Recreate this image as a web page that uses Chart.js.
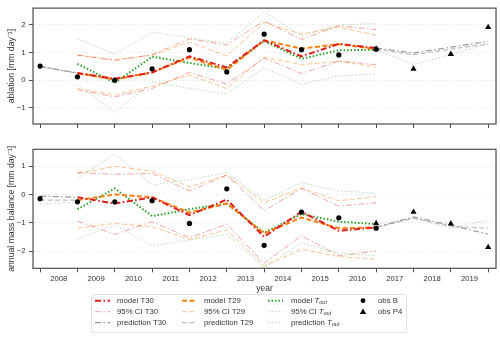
<!DOCTYPE html>
<html>
<head>
<meta charset="utf-8">
<script src="https://cdn.jsdelivr.net/npm/chart.js@4.4.0/dist/chart.umd.min.js"></script>
<style>
  html, body { margin: 0; padding: 0; background: #fff; }
  #wrap { position: relative; width: 500px; height: 337px; }
  #ablChart { position: absolute; left: 0; top: 0; }
  #mbChart { position: absolute; left: 0; top: 140px; }
</style>
</head>
<body>
<div id="wrap">
  <canvas id="ablChart" width="500" height="140"></canvas>
  <canvas id="mbChart" width="500" height="197"></canvas>
</div>
<script>
// year boundaries (points sit on them), labels sit in between
var yearStart = [2008, 2009, 2010, 2011, 2012, 2013, 2014, 2015, 2016, 2017, 2018, 2019, 2020];
var yearLabels = ['2008', '2009', '2010', '2011', '2012', '2013', '2014', '2015', '2016', '2017', '2018', '2019'];
var ablTicks = [-1, 0, 1, 2];
var mbTicks = [-2, -1, 0, 1];

// ablation panel
var ablObsB     = [0.51, 0.12, 0.00, 0.41, 1.10, 0.30, 1.66, 1.10, 0.91, 1.12, null, null, null];
var ablObsP4    = [null, null, null, null, null, null, null, null, null, 1.13, 0.41, 0.94, 1.91];
var ablModelT30 = [null, 0.26, 0.05, 0.28, 0.86, 0.46, 1.44, 0.86, 1.31, 1.16, null, null, null];
var ablModelT29 = [null, 0.25, 0.03, 0.28, 0.82, 0.37, 1.44, 1.14, 1.30, 1.12, null, null, null];
var ablModelTout= [null, 0.59, -0.09, 0.85, 0.62, 0.42, 1.42, 0.77, 1.08, 1.10, null, null, null];
var ablCiT30Up  = [null, 0.91, 0.71, 0.92, 1.49, 1.27, 2.14, 1.47, 1.97, 1.82, null, null, null];
var ablCiT30Lo  = [null, -0.35, -0.60, -0.30, 0.28, -0.14, 0.80, 0.24, 0.69, 0.56, null, null, null];
var ablCiT29Up  = [null, 0.90, 0.74, 0.90, 1.37, 0.88, 2.08, 1.66, 1.91, 1.62, null, null, null];
var ablCiT29Lo  = [null, -0.30, -0.53, -0.22, 0.19, -0.30, 0.83, 0.56, 0.68, 0.48, null, null, null];
var ablCiToutUp = [null, 1.49, 0.94, 1.73, 1.52, 1.33, 2.46, 1.62, 1.99, 2.05, null, null, null];
var ablCiToutLo = [null, -0.16, -1.15, -0.05, -0.30, -0.49, 0.45, -0.14, 0.16, 0.22, null, null, null];
var ablPredT30  = [0.50, 0.26, null, null, null, null, null, null, null, 1.16, 0.98, 1.19, 1.40];
var ablPredT29  = [0.49, 0.25, null, null, null, null, null, null, null, 1.12, 0.92, 1.12, 1.31];
var ablPredTout = [0.48, 0.27, null, null, null, null, null, null, null, 1.10, 0.56, 0.93, 1.31];

// annual mass balance panel
var mbObsB      = [-0.15, -0.26, -0.26, -0.22, -1.02, 0.20, -1.79, -0.62, -0.82, -1.19, null, null, null];
var mbObsP4     = [null, null, null, null, null, null, null, null, null, -1.02, -0.62, -1.03, -1.86];
var mbModelT30  = [null, -0.10, -0.32, -0.10, -0.73, -0.18, -1.49, -0.61, -1.28, -1.16, null, null, null];
var mbModelT29  = [null, -0.20, 0.00, -0.10, -0.64, -0.32, -1.37, -0.81, -1.19, -1.16, null, null, null];
var mbModelTout = [null, -0.52, 0.21, -0.76, -0.52, -0.32, -1.35, -0.69, -0.96, -1.04, null, null, null];
var mbCiT30Up   = [null, 0.77, 0.71, 0.74, 0.12, 0.68, -0.57, 0.21, -0.41, -0.29, null, null, null];
var mbCiT30Lo   = [null, -0.94, -1.40, -0.96, -1.52, -1.05, -2.42, -1.45, -2.16, -1.99, null, null, null];
var mbCiT29Up   = [null, 0.74, 0.99, 0.82, 0.27, 0.68, -0.29, 0.23, -0.22, -0.08, null, null, null];
var mbCiT29Lo   = [null, -1.19, -1.02, -1.14, -1.58, -1.25, -2.52, -1.93, -2.19, -2.28, null, null, null];
var mbCiToutUp  = [null, 0.56, 1.44, 0.33, 0.53, 0.76, -0.20, 0.41, 0.13, 0.04, null, null, null];
var mbCiToutLo  = [null, -1.57, -1.08, -1.81, -1.60, -1.40, -2.58, -1.70, -2.07, -2.16, null, null, null];
var mbPredT30   = [-0.06, -0.10, null, null, null, null, null, null, null, -1.16, -0.79, -1.08, -1.40];
var mbPredT29   = [-0.20, -0.20, null, null, null, null, null, null, null, -1.16, -0.84, -1.12, -1.19];
var mbPredTout  = [-0.34, -0.27, null, null, null, null, null, null, null, -1.04, -0.84, -1.19, -0.90];

var FONT = '"Liberation Sans", Arial, sans-serif';
var TXT = '#333';
var DASHDOT = [6, 2.5, 1.5, 2.5];
var DASH = [5, 2.5];
var DOT = [1.5, 2];

function toXY(values) {
  return yearStart.map(function (x, i) { return { x: x, y: values[i] }; });
}

function lineSet(label, values, color, width, dash) {
  return {
    label: label, data: toXY(values),
    borderColor: color, backgroundColor: color,
    borderWidth: width, borderDash: dash,
    pointRadius: 0, pointHoverRadius: 0, fill: false, tension: 0
  };
}

function pointSet(label, values, style, radius) {
  return {
    label: label, data: toXY(values), showLine: false,
    pointStyle: style, pointRadius: radius, pointHoverRadius: radius,
    backgroundColor: '#000', borderColor: '#000', borderWidth: 0
  };
}

function buildSets(d) {
  // first in list = drawn on top
  return [
    pointSet('obs B', d.obsB, 'circle', 2.6),
    pointSet('obs P4', d.obsP4, 'triangle', 3.6),
    lineSet('model T30', d.modelT30, 'rgb(226,30,28)', 2, DASHDOT),
    lineSet('model T29', d.modelT29, 'rgb(255,127,14)', 2, DASH),
    lineSet('model T_out', d.modelTout, 'rgb(44,160,44)', 2, DOT),
    lineSet('prediction T30', d.predT30, '#9a9a9a', 1.2, DASHDOT),
    lineSet('prediction T29', d.predT29, '#bdbdbd', 1.2, DASH),
    lineSet('prediction T_out', d.predTout, '#d4d4d4', 1.2, DOT),
    lineSet('95% CI T30', d.ciT30Up, 'rgba(226,30,28,0.4)', 1, DASHDOT),
    lineSet('95% CI T30', d.ciT30Lo, 'rgba(226,30,28,0.4)', 1, DASHDOT),
    lineSet('95% CI T29', d.ciT29Up, 'rgba(255,127,14,0.45)', 1, DASH),
    lineSet('95% CI T29', d.ciT29Lo, 'rgba(255,127,14,0.45)', 1, DASH),
    lineSet('95% CI T_out', d.ciToutUp, 'rgba(44,160,44,0.35)', 1, DOT),
    lineSet('95% CI T_out', d.ciToutLo, 'rgba(44,160,44,0.35)', 1, DOT)
  ];
}

var framePlugin = {
  id: 'frame',
  afterDatasetsDraw: function (chart) {
    var a = chart.chartArea, ctx = chart.ctx;
    ctx.save();
    ctx.strokeStyle = '#4d4d4d';
    ctx.lineWidth = 1.2;
    ctx.setLineDash([]);
    ctx.strokeRect(a.left, a.top, a.right - a.left, a.bottom - a.top);
    ctx.restore();
  }
};

// text with "T_out" drawn as italic T with italic subscript
function drawLabel(ctx, text, x, y) {
  var parts = text.split('T_out');
  ctx.font = '7.8px ' + FONT;
  ctx.fillText(parts[0], x, y);
  if (parts.length < 2) return;
  var w = ctx.measureText(parts[0]).width;
  ctx.font = 'italic 7.8px ' + FONT;
  ctx.fillText('T', x + w, y);
  var wt = ctx.measureText('T').width;
  ctx.font = 'italic 5.6px ' + FONT;
  ctx.fillText('out', x + w + wt, y + 2);
}

var legendCols = [
  ['model T30', '95% CI T30', 'prediction T30'],
  ['model T29', '95% CI T29', 'prediction T29'],
  ['model T_out', '95% CI T_out', 'prediction T_out'],
  ['obs B', 'obs P4']
];

var legendPlugin = {
  id: 'boxLegend',
  afterDraw: function (chart) {
    var ctx = chart.ctx;
    var box = { x: 91, y: 154, w: 315, h: 38 };
    var handleX = [95, 182, 268, 357];
    var textX = [117, 204, 291, 378];
    var rowY = [160.7, 171.7, 182.7];
    ctx.save();
    ctx.fillStyle = '#fff';
    ctx.strokeStyle = '#d9d9d9';
    ctx.lineWidth = 0.8;
    ctx.beginPath();
    ctx.roundRect(box.x + 0.5, box.y + 0.5, box.w, box.h, 2.5);
    ctx.fill();
    ctx.stroke();
    legendCols.forEach(function (col, c) {
      col.forEach(function (label, r) {
        var ds = chart.data.datasets.find(function (d) { return d.label === label; });
        var y = rowY[r];
        if (ds.showLine === false) {
          ctx.fillStyle = '#000';
          ctx.beginPath();
          var cx = handleX[c] + 6;
          if (ds.pointStyle === 'circle') {
            ctx.arc(cx, y, 2.4, 0, Math.PI * 2);
          } else {
            ctx.moveTo(cx, y - 3.2);
            ctx.lineTo(cx + 3.2, y + 2.4);
            ctx.lineTo(cx - 3.2, y + 2.4);
            ctx.closePath();
          }
          ctx.fill();
        } else {
          ctx.strokeStyle = ds.borderColor;
          ctx.lineWidth = ds.borderWidth;
          ctx.setLineDash(ds.borderDash);
          ctx.beginPath();
          ctx.moveTo(handleX[c], y);
          ctx.lineTo(handleX[c] + 15, y);
          ctx.stroke();
          ctx.setLineDash([]);
        }
        ctx.fillStyle = TXT;
        ctx.textBaseline = 'middle';
        ctx.textAlign = 'left';
        drawLabel(ctx, label, textX[c], y);
      });
    });
    ctx.restore();
  }
};

function makeChart(canvasId, sets, yMin, yMax, yTicks, yTitle, padTop, xHeight, withLabels) {
  var half = yearLabels.map(function (l) { return parseInt(l, 10) + 0.5; });
  return new Chart(document.getElementById(canvasId), {
    type: 'line',
    data: { datasets: sets },
    options: {
      responsive: false,
      animation: false,
      devicePixelRatio: 1,
      layout: { padding: { top: padTop, right: 4, bottom: 0, left: 0 } },
      plugins: { legend: { display: false }, tooltip: { enabled: false } },
      scales: {
        x: {
          type: 'linear', min: 2007.81, max: 2020.21,
          afterBuildTicks: function (scale) {
            scale.ticks = yearStart.concat(withLabels ? half : []).sort(function (a, b) { return a - b; })
              .map(function (v) { return { value: v }; });
          },
          afterFit: function (scale) { scale.height = xHeight; },
          grid: {
            drawOnChartArea: false, tickLength: 4, tickWidth: 1,
            tickColor: function (c) { return Number.isInteger(c.tick.value) ? '#4d4d4d' : 'rgba(0,0,0,0)'; }
          },
          border: { display: false },
          ticks: {
            autoSkip: false, maxRotation: 0, padding: 1.5,
            color: TXT, font: { size: 7.7, family: FONT },
            callback: function (v) { return (withLabels && !Number.isInteger(v)) ? String(v - 0.5) : ''; }
          },
          title: withLabels ? {
            display: true, text: 'year', color: TXT,
            font: { size: 8.5, family: FONT }, padding: { top: 0, bottom: 43.5 }
          } : { display: false }
        },
        y: {
          min: yMin, max: yMax,
          afterBuildTicks: function (scale) {
            scale.ticks = yTicks.map(function (v) { return { value: v }; });
          },
          afterFit: function (scale) { scale.width = 33; },
          grid: { color: '#dedede', lineWidth: 0.8, tickLength: 4, tickColor: '#4d4d4d', tickWidth: 1, tickBorderDash: [] },
          border: { display: false, dash: [1, 2] },
          ticks: {
            padding: 3.5, color: TXT, font: { size: 7.7, family: FONT },
            callback: function (v) { return String(v).replace('-', '\u2212'); }
          },
          title: {
            display: true, text: yTitle, color: TXT,
            font: { size: 8.7, family: FONT }, padding: { top: 6.5, bottom: 0 }
          }
        }
      }
    },
    plugins: withLabels ? [framePlugin, legendPlugin] : [framePlugin]
  });
}

var ablSets = buildSets({
  obsB: ablObsB, obsP4: ablObsP4,
  modelT30: ablModelT30, modelT29: ablModelT29, modelTout: ablModelTout,
  ciT30Up: ablCiT30Up, ciT30Lo: ablCiT30Lo, ciT29Up: ablCiT29Up, ciT29Lo: ablCiT29Lo,
  ciToutUp: ablCiToutUp, ciToutLo: ablCiToutLo,
  predT30: ablPredT30, predT29: ablPredT29, predTout: ablPredTout
});
var mbSets = buildSets({
  obsB: mbObsB, obsP4: mbObsP4,
  modelT30: mbModelT30, modelT29: mbModelT29, modelTout: mbModelTout,
  ciT30Up: mbCiT30Up, ciT30Lo: mbCiT30Lo, ciT29Up: mbCiT29Up, ciT29Lo: mbCiT29Lo,
  ciToutUp: mbCiToutUp, ciToutLo: mbCiToutLo,
  predT30: mbPredT30, predT29: mbPredT29, predTout: mbPredTout
});

makeChart('ablChart', ablSets, -1.58, 2.6, ablTicks, 'ablation [mm day\u207B\u00B9]', 4, 16, false);
makeChart('mbChart', mbSets, -2.6, 1.59, mbTicks, 'annual mass balance [mm day\u207B\u00B9]', 9.3, 68.7, true);
</script>
</body>
</html>
